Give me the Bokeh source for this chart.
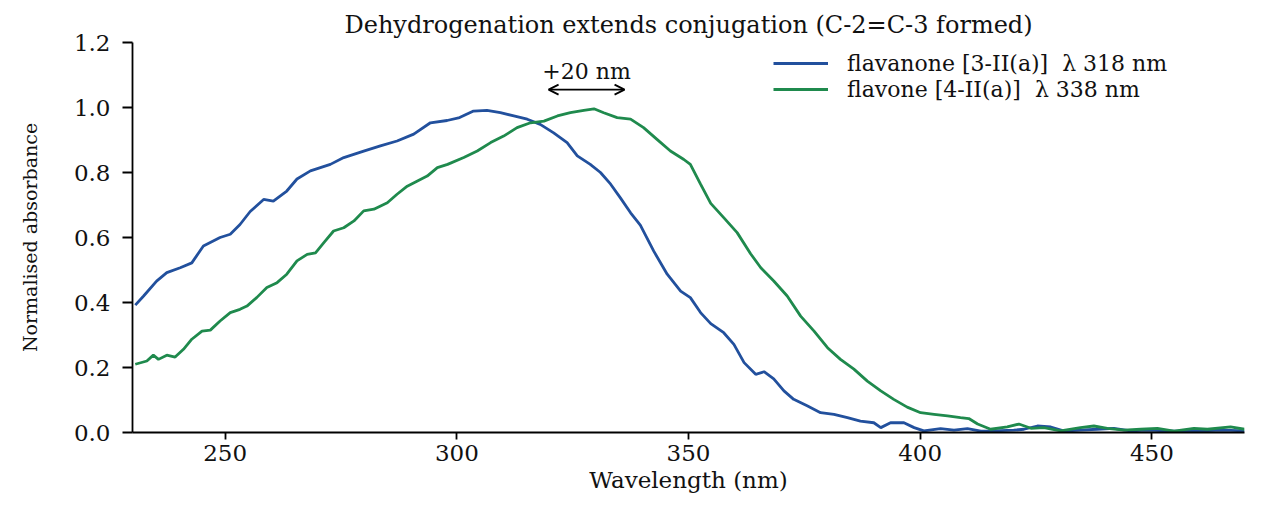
from bokeh.plotting import figure
from bokeh.models import (Range1d, FixedTicker, Legend, LegendItem, Arrow, OpenHead,
                          Label, NumeralTickFormatter)
from bokeh.embed import file_html
from bokeh.resources import INLINE

# ---- data ----
flavanone_nm = [230.6, 232.4, 235.2, 237.4, 240.3, 242.8, 245.3, 248.9, 251.1, 253.2,
                255.4, 258.3, 260.4, 263.3, 265.5, 268.4, 272.7, 275.6, 279.9, 283.5,
                287.1, 290.7, 294.3, 297.9, 300.6, 303.6, 306.5, 309.4, 312.3, 315.2,
                318.0, 320.9, 323.8, 326.0, 328.8, 331.0, 333.2, 335.3, 337.5, 339.6,
                342.5, 345.4, 348.3, 350.4, 352.6, 354.8, 357.6, 359.8, 362.0, 364.5,
                366.3, 368.4, 370.6, 372.7, 375.6, 378.5, 381.4, 384.3, 387.1, 390.0,
                391.5, 393.6, 396.5, 398.7, 400.8, 404.4, 407.3, 410.2, 413.1, 415.9,
                420.2, 422.4, 425.3, 428.2, 431.1, 434.6, 438.2, 441.8, 445.4, 449.0,
                454.8, 460.5, 465.5, 470.0]
flavanone_abs = [0.392, 0.420, 0.466, 0.492, 0.507, 0.522, 0.574, 0.600, 0.610, 0.640,
                 0.680, 0.717, 0.712, 0.743, 0.780, 0.805, 0.825, 0.846, 0.866, 0.882,
                 0.897, 0.918, 0.953, 0.960, 0.969, 0.989, 0.991, 0.984, 0.974, 0.964,
                 0.948, 0.922, 0.892, 0.851, 0.825, 0.800, 0.764, 0.722, 0.676, 0.638,
                 0.558, 0.487, 0.435, 0.415, 0.369, 0.335, 0.307, 0.271, 0.215, 0.179,
                 0.187, 0.165, 0.128, 0.102, 0.082, 0.061, 0.056, 0.046, 0.035, 0.030,
                 0.015, 0.030, 0.030, 0.015, 0.005, 0.012, 0.007, 0.012, 0.004, 0.005,
                 0.007, 0.010, 0.020, 0.017, 0.004, 0.007, 0.010, 0.013, 0.005, 0.007,
                 0.004, 0.005, 0.007, 0.005]

flavone_nm = [230.6, 233.1, 234.5, 235.6, 237.4, 239.2, 241.0, 242.8, 245.0, 246.8,
              248.9, 251.1, 253.2, 254.7, 256.8, 259.0, 261.2, 263.3, 265.5, 267.7,
              269.5, 271.3, 273.4, 275.6, 277.8, 279.9, 282.1, 285.0, 287.1, 289.3,
              291.5, 293.6, 295.8, 298.0, 301.5, 304.4, 307.3, 310.1, 313.0, 315.9,
              318.8, 321.7, 324.5, 327.4, 329.6, 331.7, 334.6, 337.5, 340.3, 343.2,
              346.1, 349.0, 350.4, 352.6, 354.8, 357.6, 360.5, 363.4, 365.6, 368.4,
              371.3, 374.2, 377.1, 380.0, 382.8, 385.7, 388.6, 391.5, 394.3, 397.2,
              400.1, 403.0, 405.9, 408.7, 410.5, 412.4, 415.2, 418.8, 421.3, 423.9,
              426.7, 430.3, 434.6, 437.5, 440.4, 444.0, 447.6, 451.2, 454.8, 459.1,
              462.0, 467.0, 470.0]
flavone_abs = [0.210, 0.220, 0.238, 0.225, 0.238, 0.232, 0.256, 0.287, 0.312, 0.315,
               0.343, 0.369, 0.379, 0.389, 0.415, 0.446, 0.461, 0.487, 0.528, 0.548,
               0.553, 0.584, 0.620, 0.630, 0.651, 0.682, 0.687, 0.707, 0.733, 0.758,
               0.774, 0.789, 0.815, 0.825, 0.846, 0.866, 0.892, 0.912, 0.938, 0.953,
               0.958, 0.974, 0.984, 0.991, 0.996, 0.984, 0.969, 0.964, 0.938, 0.902,
               0.866, 0.840, 0.825, 0.764, 0.705, 0.661, 0.615, 0.550, 0.507, 0.466,
               0.420, 0.358, 0.312, 0.261, 0.225, 0.195, 0.158, 0.128, 0.102, 0.078,
               0.061, 0.056, 0.051, 0.046, 0.043, 0.026, 0.010, 0.017, 0.026, 0.013,
               0.015, 0.005, 0.015, 0.020, 0.013, 0.007, 0.010, 0.013, 0.004, 0.013,
               0.010, 0.017, 0.010]

series_labels = ["flavanone [3-II(a)]  \u03bb 318 nm", "flavone [4-II(a)]  \u03bb 338 nm"]
peak_nm = [318, 338]
shift_label = "+20 nm"
x_ticks = [250, 300, 350, 400, 450]
y_ticks = [0.0, 0.2, 0.4, 0.6, 0.8, 1.0, 1.2]

BLUE = "#22509d"
GREEN = "#1f8a4d"
FONT = "DejaVu Serif"

p = figure(width=1260, height=498, output_backend="svg", toolbar_location=None,
           x_range=Range1d(230, 470), y_range=Range1d(0, 1.2),
           min_border_left=132, min_border_right=16, min_border_top=42, min_border_bottom=66,
           title="Dehydrogenation extends conjugation (C-2=C-3 formed)")
p.outline_line_color = None
p.grid.visible = False
p.background_fill_color = "white"
p.border_fill_color = "white"

p.title.align = "center"
p.title.text_font = FONT
p.title.text_font_size = "24px"
p.title.text_font_style = "normal"
p.title.text_color = "#111111"
p.title.standoff = 8

for ax in (p.xaxis[0], p.yaxis[0]):
    ax.axis_line_width = 1.8
    ax.axis_line_color = "black"
    ax.major_tick_line_width = 1.8
    ax.major_tick_line_color = "black"
    ax.major_tick_in = 0
    ax.minor_tick_line_color = None
    ax.major_label_text_font = FONT
    ax.major_label_text_font_size = "23px"
    ax.major_label_text_color = "#111111"
    ax.axis_label_text_font = FONT
    ax.axis_label_text_font_style = "normal"
    ax.axis_label_text_color = "#111111"

p.xaxis[0].ticker = FixedTicker(ticks=x_ticks)
p.xaxis[0].major_tick_out = 7
p.xaxis[0].major_label_standoff = 5
p.xaxis[0].axis_label = "Wavelength (nm)"
p.xaxis[0].axis_label_text_font_size = "23px"
p.xaxis[0].axis_label_standoff = 3

p.yaxis[0].ticker = FixedTicker(ticks=y_ticks)
p.yaxis[0].formatter = NumeralTickFormatter(format="0.0")
p.yaxis[0].major_tick_out = 10
p.yaxis[0].major_label_standoff = 12
p.yaxis[0].axis_label = "Normalised absorbance"
p.yaxis[0].axis_label_text_font_size = "19px"
p.yaxis[0].axis_label_standoff = 30

r1 = p.line(flavanone_nm, flavanone_abs, line_color=BLUE, line_width=2.8)
r2 = p.line(flavone_nm, flavone_abs, line_color=GREEN, line_width=2.8)

legend = Legend(items=[LegendItem(label=series_labels[0], renderers=[r1]),
                       LegendItem(label=series_labels[1], renderers=[r2])],
                location=(641, 330), orientation="vertical")
legend.border_line_color = None
legend.background_fill_alpha = 0
legend.padding = 0
legend.margin = 0
legend.spacing = 0
legend.glyph_width = 55
legend.glyph_height = 26
legend.label_height = 26
legend.label_standoff = 19
legend.label_text_font = FONT
legend.label_text_font_size = "22px"
legend.label_text_color = "#111111"
p.add_layout(legend, "center")

shrink = 1.8
arrow_y = 1.055
p.add_layout(Arrow(x_start=peak_nm[0] + shrink, y_start=arrow_y,
                   x_end=peak_nm[1] - shrink, y_end=arrow_y,
                   start=OpenHead(size=10, line_width=1.8, line_color="black"),
                   end=OpenHead(size=10, line_width=1.8, line_color="black"),
                   line_width=1.8, line_color="black"))
p.add_layout(Label(x=(peak_nm[0] + peak_nm[1]) / 2, y=1.072, text=shift_label,
                   text_align="center", text_baseline="bottom",
                   text_font=FONT, text_font_size="22px", text_color="#111111"))

open("out.html", "w").write(file_html(p, INLINE))
